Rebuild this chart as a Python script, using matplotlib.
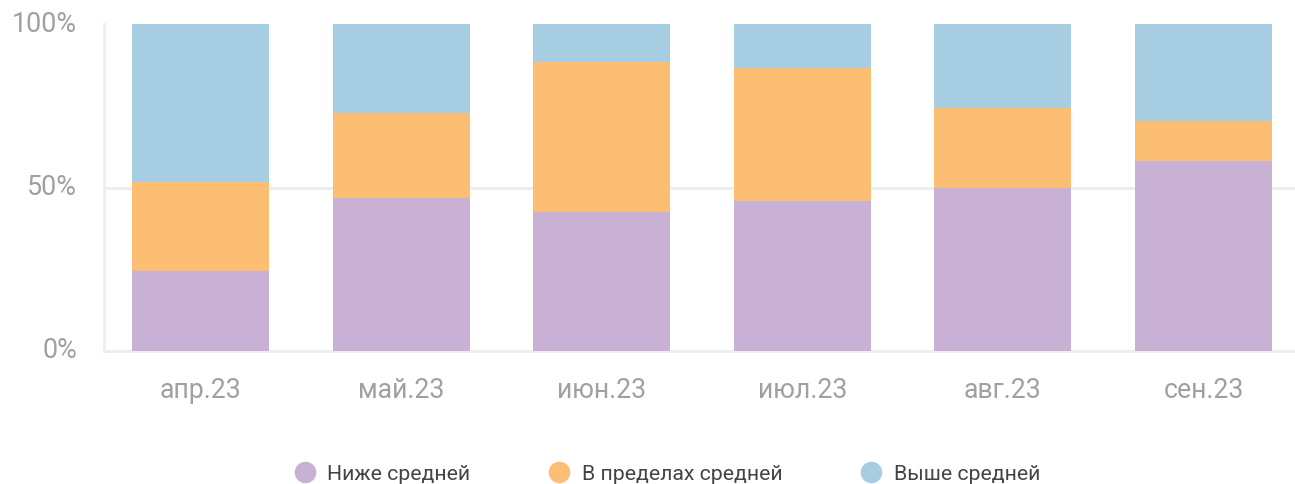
import matplotlib
matplotlib.use("Agg")
import matplotlib.pyplot as plt
from matplotlib.lines import Line2D
import numpy as np

plt.rcParams['font.family'] = ['Roboto', 'DejaVu Sans']

categories = ["апр.23", "май.23", "июн.23", "июл.23", "авг.23", "сен.23"]
below = [24.6, 46.9, 42.6, 46.0, 49.9, 58.1]
within = [27.2, 25.9, 45.9, 40.6, 24.5, 12.2]
above = [48.2, 27.2, 11.5, 13.4, 25.6, 29.7]
series_names = ["Ниже средней", "В пределах средней", "Выше средней"]
colors = ["#c9b1d6", "#fcbe72", "#a6cde2"]
y_ticks = [0, 50, 100]
y_tick_labels = ["0%", "50%", "100%"]

W, H = 1295, 484
fig = plt.figure(figsize=(W / 100, H / 100), dpi=100)
ax = fig.add_axes([104 / W, 1 - 351 / H, (W - 104) / W, (351 - 24) / H])

x = np.arange(len(categories))
bw = 0.683
bottom = np.zeros(len(categories))
for vals, c in zip([below, within, above], colors):
    ax.bar(x, vals, bw, bottom=bottom, color=c, zorder=2, linewidth=0)
    bottom += np.array(vals)

ax.set_xlim(-0.481, 5.456)
ax.set_ylim(0, 100)
ax.set_yticks(y_ticks)
ax.set_yticklabels(y_tick_labels)
ax.set_xticks(x)
ax.set_xticklabels(categories)
ax.tick_params(axis='y', length=0, pad=19.5, labelsize=19.4, labelcolor="#a0a0a0")
ax.tick_params(axis='x', length=0, pad=18.5, labelsize=19.2, labelcolor="#a0a0a0")
for lbl in ax.get_yticklabels():
    lbl.set_verticalalignment('center')

ax.axhline(50, color="#eeeeee", lw=2.2, zorder=1)
for s in ["top", "right"]:
    ax.spines[s].set_visible(False)
for s in ["left", "bottom"]:
    ax.spines[s].set_color("#eeeeee")
    ax.spines[s].set_linewidth(2.2)
    ax.spines[s].set_zorder(1)

handles = [Line2D([0], [0], marker='o', linestyle='none', markersize=14.5,
                  markerfacecolor=c, markeredgecolor=c) for c in colors]
fig.legend(handles, series_names, loc='center', bbox_to_anchor=(667 / W, 1 - 474 / H),
           ncol=3, frameon=False, fontsize=15.3, labelcolor="#444444",
           handletextpad=0.55, columnspacing=3.7, handlelength=1.0)

fig.savefig("out.png", dpi=100)
